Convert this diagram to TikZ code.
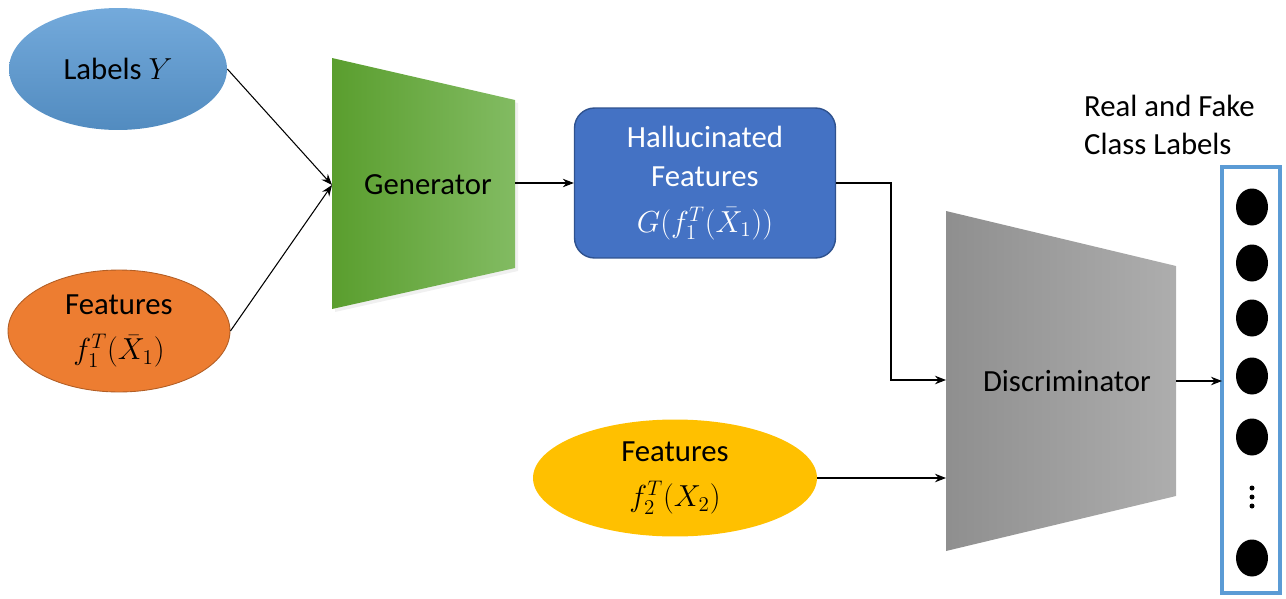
\documentclass[tikz,border=0pt]{standalone}
\usepackage{fontspec}
\setmainfont{Carlito}
\usetikzlibrary{shapes.geometric,arrows.meta}

\definecolor{labblue}{HTML}{5B9BD5}
\definecolor{featorange}{HTML}{ED7D31}
\definecolor{featyellow}{HTML}{FFC000}
\definecolor{halblue}{HTML}{4472C4}
\definecolor{halborder}{HTML}{2F528F}
\definecolor{genleft}{HTML}{5A9E2E}
\definecolor{genright}{HTML}{82BB62}

\newcommand{\bigmath}[1]{{\fontsize{18.5}{23}\selectfont$#1$}}

\tikzset{
    bigtext/.style={font=\fontsize{17.5}{22}\selectfont, align=center},
    blob/.style={ellipse, bigtext, inner sep=0pt},
    flow/.style={-{Stealth[length=0.22cm, width=0.17cm]}, line width=0.6pt},
    dot/.style={ellipse, fill=black, minimum width=0.64cm, minimum height=0.74cm, inner sep=0pt},
}

\begin{document}
\begin{tikzpicture}[x=0.02cm, y=-0.02cm]
    \useasboundingbox (0, 0) rectangle (1286, 599);

    % inputs
    \node[blob, top color=labblue!85!white, bottom color=labblue!90!black,
        minimum width=4.36cm, minimum height=2.44cm] (labels) at (118, 69) {Labels \bigmath{Y}};
    \node[blob, fill=featorange, draw=featorange!75!black, line width=0.5pt,
        minimum width=4.44cm, minimum height=2.44cm] (feat1) at (119, 331) {Features\\[4pt]\bigmath{f_1^T(\bar{X}_1)}};
    \node[blob, fill=featyellow,
        minimum width=5.68cm, minimum height=2.34cm] (feat2) at (675, 478) {Features\\[4pt]\bigmath{f_2^T(X_2)}};

    % generator
    \fill[gray!12] (335, 61) -- (518, 103) -- (518, 271) -- (335, 312) -- cycle;
    \shade[left color=genleft, right color=genright]
        (332, 58) -- (515, 100) -- (515, 268) -- (332, 309) -- cycle;
    \node[bigtext] (gen) at (428, 185) {Generator};
    \coordinate (genin) at (332, 185);
    \coordinate (genout) at (515, 183);

    % hallucinated features
    \node[bigtext, text=white, fill=halblue, draw=halborder, line width=0.8pt, rounded corners=0.4cm,
        minimum width=5.22cm, minimum height=3cm] (hal) at (705, 183)
        {Hallucinated\\Features\\[4pt]\bigmath{G(f_1^T(\bar{X}_1))}};

    % discriminator
    \shade[left color=black!44, right color=black!32]
        (946, 211) -- (1176, 266) -- (1176, 496) -- (946, 551) -- cycle;
    \node[bigtext] (disc) at (1067, 381) {Discriminator};
    \coordinate (discin1) at (946, 380);
    \coordinate (discin2) at (946, 478);
    \coordinate (discout) at (1176, 381);
    \coordinate (bend) at (891, 183);

    % output labels
    \draw[labblue, line width=2.2pt] (1222, 167) rectangle (1280, 593);
    \coordinate (outin) at (1222, 381);
    \foreach \y/\n in {207/a, 263/b, 318/c, 376/d, 437/e, 558/f}
        \node[dot] (\n) at (1252, \y) {};
    \foreach \y in {488, 497, 506}
        \fill (1252, \y) circle (0.05cm);
    \node[bigtext, align=left, anchor=west] (reallab) at (1078, 125) {Real and Fake\\Class Labels};

    % connectors
    \draw[flow] (labels.east) -- (genin);
    \draw[flow] (feat1.east) -- (genin);
    \draw[flow] (genout) -- (hal.west);
    \draw[flow] (hal.east) -- (bend) |- (discin1);
    \draw[flow] (feat2.east) -- (discin2);
    \draw[flow] (discout) -- (outin);
\end{tikzpicture}
\end{document}
